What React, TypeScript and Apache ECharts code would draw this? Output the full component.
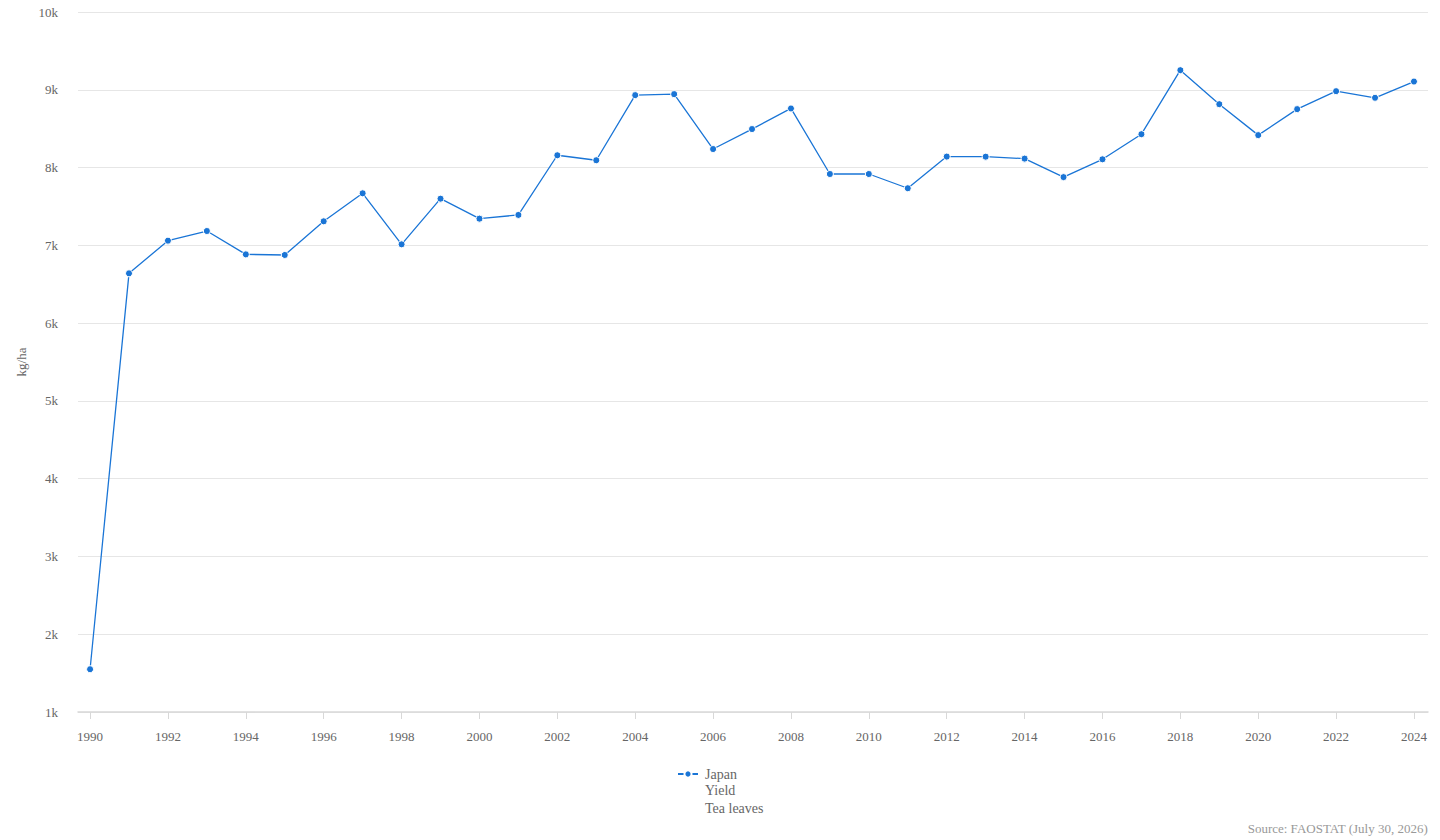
import React, { useEffect, useRef } from "react";
import * as echarts from "echarts";

const years = [
  1990, 1991, 1992, 1993, 1994, 1995, 1996, 1997, 1998, 1999,
  2000, 2001, 2002, 2003, 2004, 2005, 2006, 2007, 2008, 2009,
  2010, 2011, 2012, 2013, 2014, 2015, 2016, 2017, 2018, 2019,
  2020, 2021, 2022, 2023, 2024,
];
const yieldKgHa = [
  1550, 6640, 7060, 7184, 6884, 6876, 7309, 7669, 7013, 7600,
  7343, 7391, 8158, 8094, 8931, 8944, 8238, 8495, 8760, 7917,
  7917, 7734, 8141, 8140, 8115, 7877, 8106, 8429, 9252, 8815,
  8417, 8751, 8982, 8897, 9106,
];
const xTickYears = [
  1990, 1992, 1994, 1996, 1998, 2000, 2002, 2004, 2006, 2008, 2010, 2012,
  2014, 2016, 2018, 2020, 2022, 2024,
];
const seriesName = "Japan";
const legendExtraLines = ["Yield", "Tea leaves"];
const yAxisName = "kg/ha";
const sourceText = "Source: FAOSTAT (July 30, 2026)";

const FONT = "'Liberation Serif', 'Times New Roman', serif";
const BLUE = "#1a75d6";

export default function App() {
  const ref = useRef<HTMLDivElement>(null);
  useEffect(() => {
    if (!ref.current) return;
    const chart = echarts.init(ref.current, null, { renderer: "svg" });
    chart.setOption({
      animation: false,
      textStyle: { fontFamily: FONT },
      grid: { left: 78, right: 12, top: 12, bottom: 128, containLabel: false },
      xAxis: {
        type: "value",
        min: 1989.69,
        max: 2024.36,
        splitLine: { show: false },
        axisLine: { show: true, lineStyle: { color: "#d8d8d8", width: 1.5 } },
        axisTick: {
          show: true,
          length: 7,
          lineStyle: { color: "#d8d8d8" },
          customValues: xTickYears,
        },
        axisLabel: {
          customValues: xTickYears,
          formatter: (v: number) => String(v),
          color: "#666",
          fontSize: 13,
          fontFamily: FONT,
          margin: 18,
        },
      },
      yAxis: {
        type: "value",
        min: 1000,
        max: 10000,
        interval: 1000,
        name: yAxisName,
        nameLocation: "middle",
        nameGap: 50,
        nameTextStyle: { color: "#666", fontSize: 13, fontFamily: FONT },
        axisLine: { show: false },
        axisTick: { show: false },
        splitLine: { lineStyle: { color: "#e6e6e6", width: 1 } },
        axisLabel: {
          formatter: (v: number) => v / 1000 + "k",
          color: "#666",
          fontSize: 13,
          fontFamily: FONT,
          margin: 20,
        },
      },
      legend: {
        data: [seriesName],
        left: 672,
        top: 762,
        itemWidth: 20,
        itemHeight: 9,
        textStyle: { color: "#666", fontSize: 14, fontFamily: FONT, padding: [0, 0, 0, 2] },
      },
      graphic: [
        ...legendExtraLines.map((t, i) => ({
          type: "text",
          left: 705,
          top: 783 + i * 18,
          style: { text: t, fill: "#666", font: `14px ${FONT}` },
        })),
        {
          type: "text",
          right: 12,
          top: 822,
          style: { text: sourceText, fill: "#999", font: `13px ${FONT}` },
        },
      ],
      series: [
        {
          name: seriesName,
          type: "line",
          data: years.map((y, i) => [y, yieldKgHa[i]]),
          symbol: "circle",
          symbolSize: 7,
          showSymbol: true,
          itemStyle: { color: BLUE, borderColor: "#fff", borderWidth: 1 },
          lineStyle: { color: BLUE, width: 1.3 },
        },
      ],
    });
    return () => chart.dispose();
  }, []);
  return (
    <div
      ref={ref}
      style={{ position: "fixed", left: 0, top: 0, width: 1440, height: 840, background: "#fff" }}
    />
  );
}
